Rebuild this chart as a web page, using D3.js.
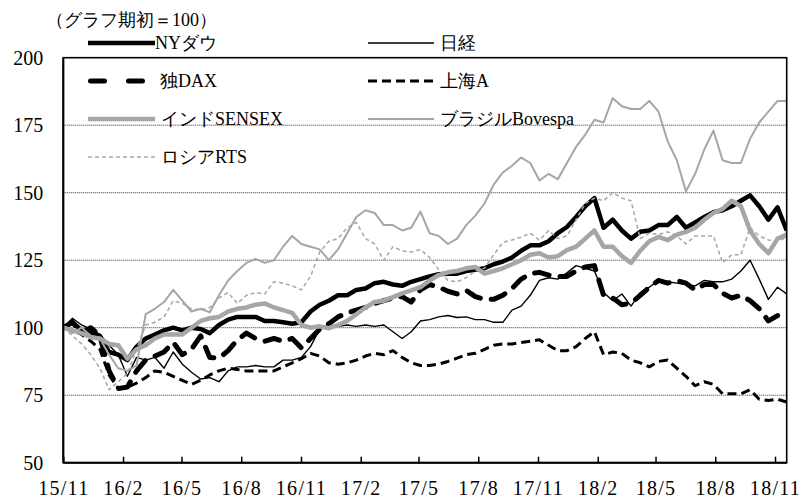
<!DOCTYPE html>
<html>
<head>
<meta charset="utf-8">
<script src="https://cdn.jsdelivr.net/npm/d3@7"></script>
<style>
  html, body { margin: 0; padding: 0; background: #fff; }
  svg { display: block; }
  .lbl { font-family: "Times New Roman", serif; fill: #000; }
</style>
</head>
<body>
<svg id="chart" width="801" height="502"></svg>
<script>
// Stock indices, rebased so the first observation = 100 (Nov 2015 – Nov 2018)
const tickLabels = ["15/11","16/2","16/5","16/8","16/11","17/2","17/5","17/8","17/11","18/2","18/5","18/8","18/11"];
const yTicks = [50, 75, 100, 125, 150, 175, 200];

const nyDow = [100,102,99,98,97,91,90,88,93,96, 97.5,99,100,99,100,99.5,98,101,103,104,
  104,104,102.5,102.5,102,101.5,102,106,108.5,110, 112,112,114,114.5,116.5,117,116,115.5,117,118,
  119,119.8,120,120,121,121.5,122,123.5,124.5,126, 128.5,130.5,130.5,132,135,137.3,141,145,148,137,
  140,136,133,135.5,136,138,138,141,137,139, 141,142.8,143.5,145,147,149,145,140,144.6,136];

const nikkei = [100,103.5,101,99.5,97.5,93.5,90,82,89,88, 89,85,91,86.5,83.5,81,81.5,80,84,85.5,
  85.5,86,85.5,85.5,88,88,89,93,99.5,101, 100.5,101,100.5,101,100.5,101,98.5,96,98.5,102.5,
  103,104,104.5,103.8,104,103,103,102,102,106.5, 108,112,117.5,118.5,118,120.3,123,122,121,113,
  110,112.5,108,113,115,117.6,117,116.5,116,115.5, 117.5,117,117,118,121,125,118,110.5,115,112.5];

const dax = [100,102,98,100,97,84,77.5,78,84,88, 89.5,91,94.6,90,92,97,89,88.7,91.5,95.5,
  98,96,95,96,95,96,92.5,96,99.5,101.5, 104,105.5,106.5,107.5,109,110,111,111.5,109.5,114,
  116,115,113.5,112.5,113.8,111.5,110.5,110.5,112,114.5, 118,120,120.5,119.5,119,119,121,122.5,123,112,
  111,108.5,109,112,115,117.5,116.5,117.5,116.5,114, 116,116,112.7,111,112,110,107,102.5,104.5,104];

const shanghaiA = [100,99,97.5,95,92,82.5,77.5,78,79.5,81.5, 84,83.5,82,80.5,79,80.5,82.5,84,85,84.5,
  84,84,84,84,85.5,87,88.5,90.5,89.5,87, 86.5,87,88,89.5,90.5,90,91.5,89,87,86,
  86,86.5,87.5,88.7,90,90.5,92,93.5,94,94, 94.5,95,95.5,93.5,91.5,91.5,93,96,98.5,90,
  91,90.5,88,87,85.5,87.5,88,85,82,78.5, 80,79,75.5,75.5,75.5,77,73.5,73,73.5,72.5];

const sensex = [100,99,98,96.5,96,94,93.5,88.5,92,93.5, 96,97.5,97.5,97.5,100,102.5,103.5,104,106,107,
  107.5,108.5,109,107.5,106.5,105.5,101,100,100.5,99.8, 101,102.5,105,107.5,109.5,110,111.3,112.7,113.8,115,
  117.5,119.5,120.5,121,122,122.5,120,121,122,123.5, 125,127,127.6,126,126.5,128.7,130,133,136,130,
  130,126.5,124,128.5,132,133.6,132.4,134.5,135.5,137, 140,142.5,144,147,145,136,131,127.6,133,134.5];

const bovespa = [100,98,100,97,96,90,85,84,86,105, 107,109.5,114,110,106,107,105.7,112,117.5,121,
  124,125.5,124,125,130,134,131,130,129,125, 129,135,141,143.5,142.5,138,138,136,137,143,
  135,134,131,133,138,141.5,146,153,157.5,160, 163,161,154.5,157,155,161,167,171.5,177,176,
  185,182,181,181,184,180,169,162,150.5,157, 166,173,162,161,161,170,176,180,184,184];

const rts = [100,97,94,90,85,77,80,83,92,101, 102,104,110,109,107,106.5,107.5,111,113,109,
  112,113,112.5,117,116.5,115.5,114,119,128,132, 133,137,139,133,131,125,130,128.5,128,129,
  126,121.5,117.5,117,118.5,121,122,127,131.6,132.5, 133.5,135,132.4,136,133,134,140,146,148,147,
  150,148,147,133,135,134.5,135.5,134,131,134, 134,134,124,127,127,137,134,132.5,132,133.5];

// Observation dates: evenly spaced from 2015-11-01 to 2018-11-19
const startMs = Date.UTC(2015, 10, 1);
const endMs = Date.UTC(2018, 10, 19);
const nObs = nyDow.length;
const dates = d3.range(nObs).map(i => new Date(startMs + (endMs - startMs) * i / (nObs - 1)));

const series = [
  { name: "NYダウ",          values: nyDow,     color: "#000",    width: 4.5, dash: null,    cap: "butt" },
  { name: "日経",            values: nikkei,    color: "#000",    width: 1.4, dash: null,    cap: "butt" },
  { name: "独DAX",           values: dax,       color: "#000",    width: 5,   dash: "15,11", cap: "round", legendDash: "14,24" },
  { name: "上海A",           values: shanghaiA, color: "#000",    width: 3,   dash: "9,5",   cap: "butt" },
  { name: "インドSENSEX",    values: sensex,    color: "#a6a6a6", width: 4.5, dash: null,    cap: "butt" },
  { name: "ブラジルBovespa", values: bovespa,   color: "#a6a6a6", width: 2,   dash: null,    cap: "butt" },
  { name: "ロシアRTS",       values: rts,       color: "#a6a6a6", width: 1.5, dash: "4,3",   cap: "butt" }
];

const svg = d3.select("#chart");
const W = 801, H = 502;
const plot = { left: 63.3, top: 57.7, right: 786.7, bottom: 462.7 };

svg.append("rect").attr("width", W).attr("height", H).attr("fill", "#fff");

const x = d3.scaleUtc().domain([startMs, endMs]).range([plot.left, plot.right]);
const y = d3.scaleLinear().domain([50, 200]).range([plot.bottom, plot.top]);

// Dotted horizontal gridlines
svg.append("g").selectAll("line")
  .data(yTicks.filter(v => v > 50 && v < 200))
  .join("line")
  .attr("x1", plot.left).attr("x2", plot.right)
  .attr("y1", d => y(d)).attr("y2", d => y(d))
  .attr("stroke", "#333").attr("stroke-width", 1).attr("stroke-dasharray", "1,1");

// Series lines
svg.append("clipPath").attr("id", "plotClip")
  .append("rect").attr("x", plot.left).attr("y", plot.top)
  .attr("width", plot.right - plot.left).attr("height", plot.bottom - plot.top);

const line = d3.line().x((d, i) => x(dates[i])).y(d => y(d));
const gLines = svg.append("g").attr("clip-path", "url(#plotClip)");
series.forEach(s => {
  gLines.append("path")
    .datum(s.values)
    .attr("d", line)
    .attr("fill", "none")
    .attr("stroke", s.color)
    .attr("stroke-width", s.width)
    .attr("stroke-linejoin", "round")
    .attr("stroke-linecap", s.cap)
    .attr("stroke-dasharray", s.dash);
});

// Plot frame
svg.append("rect")
  .attr("x", plot.left).attr("y", plot.top)
  .attr("width", plot.right - plot.left).attr("height", plot.bottom - plot.top)
  .attr("fill", "none").attr("stroke", "#000").attr("stroke-width", 1.6);
svg.append("line").attr("x1", plot.left).attr("x2", plot.left)
  .attr("y1", plot.top).attr("y2", plot.bottom).attr("stroke", "#000").attr("stroke-width", 2);
svg.append("line").attr("x1", plot.left).attr("x2", plot.right)
  .attr("y1", plot.bottom).attr("y2", plot.bottom).attr("stroke", "#000").attr("stroke-width", 2);

// X axis tick marks (pointing inward) drawn by d3.axisBottom; labels set below
const tickDates = tickLabels.map(l => {
  const [yy, mm] = l.split("/");
  return new Date(Date.UTC(2000 + (+yy), (+mm) - 1, 1));
});
const xAxis = d3.axisBottom(x)
  .tickValues(tickDates)
  .tickFormat((d, i) => tickLabels[i])
  .tickSizeInner(-6).tickSizeOuter(0).tickPadding(18.5);
const gx = svg.append("g").attr("transform", `translate(0,${plot.bottom})`).call(xAxis);
gx.attr("font-family", null).attr("font-size", null);
gx.select(".domain").remove();
gx.selectAll(".tick line").attr("stroke", "#000").attr("stroke-width", 1.5);
gx.selectAll(".tick text")
  .attr("class", "lbl")
  .style("font-size", "20px")
  .attr("letter-spacing", 1.3).attr("fill", "#000");

// Y axis labels
const yAxis = d3.axisLeft(y).tickValues(yTicks).tickSize(0).tickPadding(20);
const gy = svg.append("g").attr("transform", `translate(${plot.left},0)`).call(yAxis);
gy.attr("font-family", null).attr("font-size", null);
gy.select(".domain").remove();
gy.selectAll(".tick text")
  .attr("class", "lbl")
  .style("font-size", "20px").attr("fill", "#000");

// Unit note
svg.append("text")
  .attr("class", "lbl")
  .style("font-size", "18px")
  .attr("x", 46).attr("y", 20).attr("dy", "0.35em")
  .text("（グラフ期初＝100）");

// Legend (two columns, four rows)
const legendCols = [{ x0: 88, x1: 155, tx: [155, 160, 161, 161] }, { x0: 368, x1: 434, tx: [440, 440, 440] }];
const legendRows = [43, 81, 119, 157];
series.forEach((s, i) => {
  const col = legendCols[i % 2];
  const row = Math.floor(i / 2);
  const ly = legendRows[row];
  svg.append("line")
    .attr("x1", col.x0 + (s.cap === "round" ? s.width / 2 : 0))
    .attr("x2", col.x1 - (s.cap === "round" ? s.width / 2 : 0))
    .attr("y1", ly).attr("y2", ly)
    .attr("stroke", s.color).attr("stroke-width", s.width)
    .attr("stroke-linecap", s.cap)
    .attr("stroke-dasharray", s.legendDash || s.dash);
  svg.append("text")
    .attr("class", "lbl")
    .style("font-size", "18px")
    .attr("x", col.tx[row]).attr("y", ly).attr("dy", "0.35em")
    .text(s.name);
});
</script>
</body>
</html>
